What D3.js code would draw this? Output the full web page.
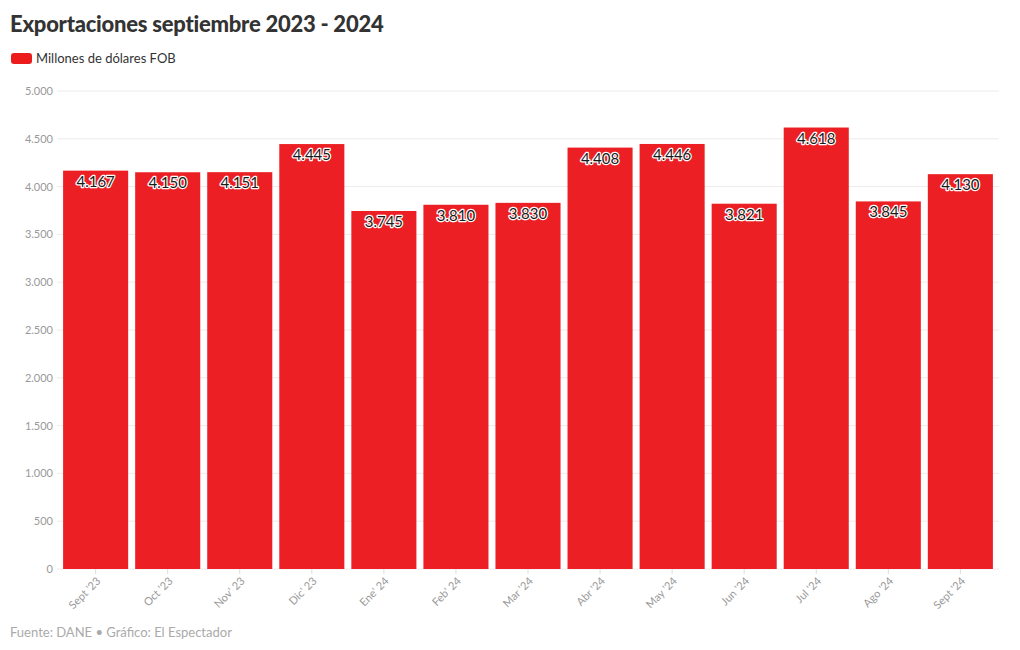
<!DOCTYPE html>
<html><head><meta charset="utf-8">
<script src="https://cdn.jsdelivr.net/npm/d3@7"></script>
<style>
body{margin:0;background:#fff;font-family:"Source Sans Pro","Lato","Noto Sans",sans-serif;}
</style></head>
<body>
<svg id="c" width="1020" height="650"></svg>
<script>
const categories = ["Sept '23","Oct '23","Nov' 23","Dic' 23","Ene' 24","Feb' 24","Mar '24","Abr '24","May '24","Jun '24","Jul '24","Ago '24","Sept '24"];
const values = [4167,4150,4151,4445,3745,3810,3830,4408,4446,3821,4618,3845,4130];
const yTicks = [0,500,1000,1500,2000,2500,3000,3500,4000,4500,5000];
const seriesName = "Millones de dólares FOB";
const title = "Exportaciones septiembre 2023 - 2024";
const source = "Fuente: DANE • Gráfico: El Espectador";

(function(){
const svg = d3.select("#c");
const font = "Lato, 'Noto Sans', sans-serif";
const mLeft = 59.5, mRight = 996.5, mTop = 91, mBottom = 569;
const fmt = d3.formatLocale({decimal:",",thousands:".",grouping:[3],currency:["",""]}).format(",d");

svg.append("text").attr("x",10).attr("y",32).text(title)
  .attr("font-family",font).attr("font-weight",900).attr("font-size",22).attr("letter-spacing",-0.25).attr("fill","#333");
svg.append("rect").attr("x",11).attr("y",53).attr("width",21).attr("height",11).attr("rx",3).attr("fill","#ec1c1c");
svg.append("text").attr("x",36).attr("y",63).text(seriesName)
  .attr("font-family",font).attr("font-size",13).attr("fill","#333");

const x = d3.scaleBand().domain(categories).range([mLeft,mRight]).paddingInner(0.097).paddingOuter(0.05);
const y = d3.scaleLinear().domain([0,5000]).range([mBottom,mTop]);

const g = svg.append("g");
g.selectAll("line.grid").data(yTicks).join("line")
  .attr("x1",57).attr("x2",999).attr("y1",d=>y(d)).attr("y2",d=>y(d))
  .attr("stroke","#ececec").attr("stroke-width",1);
g.selectAll("text.yt").data(yTicks).join("text")
  .attr("x",53).attr("y",d=>y(d)+4).attr("text-anchor","end")
  .attr("font-family",font).attr("font-size",11).attr("fill","#999").text(d=>fmt(d));

g.selectAll("rect.bar").data(values).join("rect")
  .attr("x",(d,i)=>x(categories[i])).attr("width",x.bandwidth())
  .attr("y",d=>y(d)).attr("height",d=>y(0)-y(d))
  .attr("fill","#ec2024");

g.selectAll("text.lbl").data(values).join("text")
  .attr("x",(d,i)=>x(categories[i])+x.bandwidth()/2).attr("y",d=>y(d)+16)
  .attr("text-anchor","middle").attr("font-family",font).attr("font-size",15)
  .attr("fill","#1a1a1a").attr("stroke","#fff").attr("stroke-width",2.5)
  .attr("paint-order","stroke").attr("stroke-linejoin","round").text(d=>fmt(d));

const xa = g.selectAll("g.xt").data(categories).join("g")
  .attr("transform",d=>`translate(${x(d)+x.bandwidth()/2},${mBottom})`);
xa.append("line").attr("y1",0).attr("y2",5).attr("stroke","#ddd");
xa.append("text").attr("transform","translate(3,10) rotate(-45)").attr("text-anchor","end")
  .attr("dy","0.35em").attr("font-family",font).attr("font-size",11).attr("fill","#999").text(d=>d);

svg.append("text").attr("x",10).attr("y",637).text(source)
  .attr("font-family",font).attr("font-size",13).attr("fill","#aaa");
})();
</script>
</body></html>
